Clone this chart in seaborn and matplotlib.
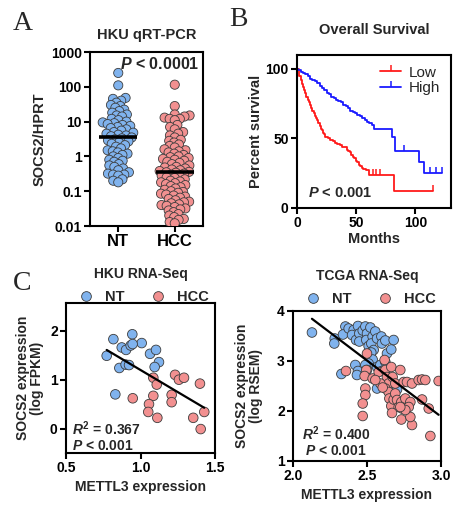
import matplotlib
matplotlib.use("Agg")
import matplotlib.pyplot as plt
from matplotlib.lines import Line2D
from matplotlib.ticker import NullLocator
import numpy as np
import pandas as pd
import seaborn as sns

# --- A: HKU qRT-PCR, SOCS2/HPRT per sample
nt_values = [250, 110, 48, 45, 40, 35, 30, 28, 25, 22, 20, 18, 16, 15, 14, 12, 11, 10,
             9.5, 9, 8.5, 8, 7.5, 7, 6.5, 6, 5.5, 5, 4.8, 4.5, 4.2, 4, 3.8, 3.5, 3.3,
             3.1, 2.9, 2.7, 2.5, 2.3, 2.1, 1.9, 1.7, 1.5, 1.4, 1.3, 1.2, 1.1, 1.0, 0.9,
             0.8, 0.75, 0.7, 0.6, 0.55, 0.5, 0.45, 0.4, 0.35, 0.32, 0.3, 0.3, 0.28,
             0.22, 0.2, 0.18]
hcc_values = [115, 28, 16, 15, 14, 13, 12, 12, 11, 8, 7, 6, 5, 4.5, 4, 3.5, 3, 2.8,
              2.5, 2.2, 2, 1.8, 1.6, 1.5, 1.4, 1.3, 1.2, 1.1, 1.0, 0.95, 0.9, 0.85,
              0.8, 0.75, 0.7, 0.65, 0.6, 0.55, 0.5, 0.48, 0.45, 0.42, 0.4, 0.38, 0.36,
              0.35, 0.34, 0.32, 0.3, 0.28, 0.27, 0.25, 0.24, 0.22, 0.2, 0.19, 0.18,
              0.17, 0.16, 0.15, 0.14, 0.13, 0.12, 0.11, 0.1, 0.095, 0.09, 0.085, 0.08,
              0.075, 0.07, 0.065, 0.06, 0.055, 0.05, 0.048, 0.045, 0.042, 0.04, 0.038,
              0.035, 0.032, 0.03, 0.028, 0.025, 0.022, 0.02, 0.018, 0.016, 0.015,
              0.013, 0.012]
a_groups = ["NT", "HCC"]
a_ticks = [0.01, 0.1, 1, 10, 100, 1000]
a_ticklabels = ["0.01", "0.1", "1", "10", "100", "1000"]

# --- B: overall survival (Kaplan-Meier steps)
low_months = [0, 2, 3, 4, 5, 6, 7, 8, 9, 10, 11, 12, 13, 14, 15, 16, 17, 18, 19, 20,
              21, 22, 23, 24, 26, 28, 30, 32, 34, 36, 38, 40, 42, 43, 45, 46, 47, 48,
              50, 51, 52, 53, 55, 56, 58, 61, 82, 115]
low_surv = [100, 95, 92, 89, 87, 85, 83, 80, 78, 76, 74, 72, 70, 68, 66, 65, 63, 61,
            59, 57, 56, 54, 53, 51, 50, 49, 48, 47, 46, 45, 44, 44, 42, 41, 40, 38, 37,
            36, 34, 33, 31, 30, 29, 28, 27, 24, 12, 12]
low_censor = [64, 67, 70, 115]
high_months = [0, 1, 3, 5, 7, 9, 11, 13, 15, 17, 19, 21, 23, 25, 27, 29, 31, 33, 35,
               37, 39, 41, 43, 45, 47, 49, 51, 53, 55, 57, 59, 61, 63, 65, 80, 83, 103,
               107, 122]
high_surv = [100, 99, 98, 97, 96, 95, 93, 92, 91, 90, 88, 86, 85, 83, 82, 80, 79, 78,
             77, 76, 74, 73, 72, 70, 69, 68, 67, 66, 65, 63, 62, 61, 60, 57, 51, 41, 33,
             25, 25]
high_censor = [90, 112, 117, 122]

# --- C left: HKU RNA-Seq
hku_nt_x = [0.773, 0.818, 0.874, 0.903, 0.934, 0.945, 1.008, 0.947, 0.858, 0.900,
            0.923, 1.064, 1.104, 1.124, 1.095, 0.831]
hku_nt_y = [1.49, 1.83, 1.66, 1.61, 1.70, 1.93, 1.75, 1.73, 1.24, 1.31, 1.30, 1.53,
            1.61, 1.36, 1.26, 0.70]
hku_hcc_x = [1.086, 1.109, 0.948, 1.086, 1.057, 1.052, 1.113, 1.209, 1.209, 1.232,
             1.258, 1.292, 1.399, 1.354, 1.404, 1.428]
hku_hcc_y = [1.04, 0.90, 0.62, 0.67, 0.50, 0.34, 0.22, 0.69, 0.54, 1.10, 1.00, 1.04,
             0.92, 0.22, -0.01, 0.34]

# --- C right: TCGA RNA-Seq
tcga_nt_x = [2.128, 2.282, 2.279, 2.354, 2.338, 2.376, 2.410, 2.399, 2.426, 2.439,
             2.448, 2.448, 2.471, 2.489, 2.500, 2.495, 2.511, 2.523, 2.538, 2.529,
             2.545, 2.556, 2.568, 2.597, 2.601, 2.624, 2.529, 2.538, 2.511, 2.489,
             2.421, 2.439, 2.432, 2.500, 2.568, 2.590, 2.601, 2.624, 2.635, 2.664,
             2.680, 2.327, 2.568, 2.703]
tcga_nt_y = [3.57, 3.45, 3.35, 3.69, 3.53, 3.65, 3.62, 3.52, 3.42, 3.70, 3.55, 3.39,
             3.61, 3.69, 3.55, 3.42, 3.30, 3.67, 3.49, 3.35, 3.22, 3.59, 3.45, 3.49,
             3.35, 3.41, 3.17, 3.03, 2.95, 2.92, 2.92, 2.80, 2.72, 2.82, 2.88, 2.92,
             2.80, 2.98, 3.15, 3.23, 3.42, 2.74, 2.45, 2.43]
tcga_hcc_x = [2.358, 2.500, 2.495, 2.484, 2.489, 2.489, 2.471, 2.471, 2.538, 2.579,
              2.619, 2.624, 2.635, 2.646, 2.664, 2.673, 2.691, 2.624, 2.646, 2.651,
              2.664, 2.680, 2.691, 2.703, 2.714, 2.725, 2.732, 2.736, 2.759, 2.748,
              2.770, 2.804, 2.793, 2.782, 2.732, 2.804, 2.793, 2.849, 2.872, 2.894,
              2.872, 2.917, 2.928, 2.984, 2.590, 2.606, 2.556, 2.759, 2.725, 2.669]
tcga_hcc_y = [2.80, 3.15, 2.82, 2.70, 2.45, 2.32, 2.15, 1.90, 2.65, 2.78, 3.02, 2.82,
              2.68, 2.55, 2.88, 2.68, 2.55, 2.45, 2.38, 2.25, 2.10, 2.23, 2.35, 2.22,
              2.08, 2.82, 2.18, 2.05, 2.25, 2.58, 2.58, 2.55, 2.18, 2.08, 1.83, 1.72,
              1.88, 2.62, 2.63, 2.62, 2.23, 2.05, 1.50, 2.60, 2.55, 2.47, 2.62, 2.02,
              2.08, 1.96]

BLUE_FILL = "#80B3EE"
RED_FILL = "#F29090"
EDGE = "#3c3c3c"
palette = {"NT": BLUE_FILL, "HCC": RED_FILL}

sns.set_style("ticks")
plt.rcParams["font.family"] = ["Liberation Sans", "DejaVu Sans"]
plt.rcParams["font.weight"] = "bold"
plt.rcParams["axes.labelweight"] = "bold"
plt.rcParams["axes.titleweight"] = "bold"
plt.rcParams["mathtext.fontset"] = "custom"
plt.rcParams["mathtext.rm"] = "Liberation Sans:bold"
plt.rcParams["mathtext.it"] = "Liberation Sans:italic:bold"
plt.rcParams["mathtext.bf"] = "Liberation Sans:bold"
plt.rcParams["axes.linewidth"] = 1.5
plt.rcParams["xtick.major.width"] = 1.5
plt.rcParams["ytick.major.width"] = 1.5
plt.rcParams["xtick.major.size"] = 4
plt.rcParams["ytick.major.size"] = 4
plt.rcParams["axes.edgecolor"] = "black"

fig = plt.figure(figsize=(4.6, 5.05), dpi=100)
W, H = 460, 505


def add_axes(left, top, right, bottom):
    return fig.add_axes([left / W, 1 - bottom / H, (right - left) / W, (bottom - top) / H])


def style_ticks(ax, size):
    ax.tick_params(axis="both", labelsize=size, pad=2, colors="black")
    for lab in ax.get_xticklabels() + ax.get_yticklabels():
        lab.set_fontweight("bold")


# ---------------- Panel A
ax_a = add_axes(90, 52, 203, 226)
df_a = pd.DataFrame({
    "group": ["NT"] * len(nt_values) + ["HCC"] * len(hcc_values),
    "value": nt_values + hcc_values,
})
# swarm laid out with small markers, then drawn with bigger ones so they overlap
sns.swarmplot(data=df_a, x="group", y="value", hue="group", order=a_groups,
              palette=palette, size=3.0, edgecolor=EDGE, linewidth=0.6,
              log_scale=True, legend=False, warn_thresh=1, ax=ax_a)
for i, vals in enumerate([nt_values, hcc_values]):
    ax_a.hlines(np.median(vals), i - 0.34, i + 0.34, color="black", lw=2.6, zorder=5)
ax_a.set_ylim(0.01, 1000)
ax_a.set_xlim(-0.5, 1.5)
ax_a.set_yticks(a_ticks, a_ticklabels)
ax_a.yaxis.set_minor_locator(NullLocator())
ax_a.set_xlabel("")
ax_a.set_ylabel("SOCS2/HPRT", fontsize=10.5, labelpad=3)
style_ticks(ax_a, 10)
ax_a.tick_params(axis="x", labelsize=12)
ax_a.set_title("HKU qRT-PCR", fontsize=10.5, pad=9)
ax_a.text(0.97, 0.93, "$P$ < 0.0001", transform=ax_a.transAxes, ha="right",
          va="center", fontsize=11.5)

# ---------------- Panel B
ax_b = add_axes(297, 55, 451, 208)
df_b = pd.concat([
    pd.DataFrame({"months": low_months, "survival": low_surv, "group": "Low"}),
    pd.DataFrame({"months": high_months, "survival": high_surv, "group": "High"}),
])
km_colors = {"Low": "#FF1A1A", "High": "#1A1AFF"}
sns.lineplot(data=df_b, x="months", y="survival", hue="group", palette=km_colors,
             drawstyle="steps-post", estimator=None, linewidth=1.3, legend=False,
             ax=ax_b)
for months, surv, cens, grp in [(low_months, low_surv, low_censor, "Low"),
                                (high_months, high_surv, high_censor, "High")]:
    idx = np.searchsorted(months, cens, side="right") - 1
    ax_b.plot(cens, np.array(surv)[idx], ls="none", marker=2, ms=4, mew=1.1,
              color=km_colors[grp])
ax_b.set_xlim(0, 130)
ax_b.set_ylim(0, 110)
ax_b.set_xticks([0, 50, 100])
ax_b.set_yticks([0, 50, 100])
ax_b.set_xlabel("Months", fontsize=10.5, labelpad=1)
ax_b.set_ylabel("Percent survival", fontsize=10.5, labelpad=2)
style_ticks(ax_b, 10)
ax_b.set_title("Overall Survival", fontsize=10.5, pad=15)
handles = [Line2D([0], [0], color=km_colors[g], lw=1.3, marker=2, ms=4, mew=1.1)
           for g in ["Low", "High"]]
leg = ax_b.legend(handles, ["Low", "High"], loc="upper right", frameon=False,
                  fontsize=11, handlelength=1.4, handletextpad=0.5, numpoints=1,
                  labelspacing=0.1, borderaxespad=0.3)
for t in leg.get_texts():
    t.set_fontweight("normal")
ax_b.text(0.07, 0.1, "$P$ < 0.001", transform=ax_b.transAxes, ha="left",
          va="center", fontsize=10.5)


# ---------------- Panel C
def corr_panel(ax, nt_x, nt_y, hcc_x, hcc_y, title, ylabel, r2_text, leg_y,
               stat_pos, ylabelpad, title_pad):
    df = pd.DataFrame({
        "x": nt_x + hcc_x,
        "y": nt_y + hcc_y,
        "group": ["NT"] * len(nt_x) + ["HCC"] * len(hcc_x),
    })
    sns.scatterplot(data=df, x="x", y="y", hue="group", palette=palette, s=48,
                    edgecolor=EDGE, linewidth=0.6, legend=False, ax=ax, zorder=2)
    sns.regplot(data=df, x="x", y="y", scatter=False, ci=None, truncate=True,
                color="black", line_kws={"lw": 1.6, "zorder": 3}, ax=ax)
    ax.set_xlabel("METTL3 expression", fontsize=10, labelpad=3)
    ax.set_ylabel(ylabel, fontsize=10, labelpad=ylabelpad, linespacing=1.0)
    style_ticks(ax, 10)
    ax.set_title(title, fontsize=10, pad=title_pad)
    hs = [Line2D([0], [0], ls="none", marker="o", ms=7, mfc=palette[g], mec=EDGE,
                 mew=0.6) for g in ["NT", "HCC"]]
    ax.legend(hs, ["NT", "HCC"], loc="center", bbox_to_anchor=(0.5, leg_y), ncol=2,
              frameon=False, fontsize=10.5, handletextpad=0.3, columnspacing=1.3,
              borderaxespad=0, borderpad=0)
    (x1, y1), (x2, y2) = stat_pos
    ax.text(x1, y1, r2_text, transform=ax.transAxes, ha="left", va="center",
            fontsize=10)
    ax.text(x2, y2, "$P$ < 0.001", transform=ax.transAxes, ha="left", va="center",
            fontsize=10)


ax_c1 = add_axes(66, 303, 215, 453)
corr_panel(ax_c1, hku_nt_x, hku_nt_y, hku_hcc_x, hku_hcc_y, "HKU RNA-Seq",
           "SOCS2 expression\n(log FPKM)", "$R^2$ = 0.367", 1.04,
           [(0.04, 0.16), (0.04, 0.05)], 4, 18)
ax_c1.set_xlim(0.5, 1.5)
ax_c1.set_ylim(-0.5, 2.57)
ax_c1.set_xticks([0.5, 1.0, 1.5], ["0.5", "1.0", "1.5"])
ax_c1.set_yticks([0, 1, 2], ["0", "1", "2"])
style_ticks(ax_c1, 10)

ax_c2 = add_axes(293, 311, 441, 461)
corr_panel(ax_c2, tcga_nt_x, tcga_nt_y, tcga_hcc_x, tcga_hcc_y, "TCGA RNA-Seq",
           "SOCS2 expression\n(log RSEM)", "$R^2$ = 0.400", 1.08,
           [(0.06, 0.185), (0.08, 0.065)], 10, 22)
ax_c2.set_xlim(2.0, 3.0)
ax_c2.set_ylim(1, 4)
ax_c2.set_xticks([2.0, 2.5, 3.0], ["2.0", "2.5", "3.0"])
ax_c2.set_yticks([1, 2, 3, 4], ["1", "2", "3", "4"])
style_ticks(ax_c2, 10)

# panel letters
for letter, x, y in [("A", 23, 23), ("B", 238, 19), ("C", 22, 283)]:
    fig.text(x / W, 1 - y / H, letter, family=["Liberation Serif"], fontsize=20,
             fontweight="normal", ha="center", va="center")

# fix the swarm layout, then enlarge the dots
fig.canvas.draw()
for coll in ax_a.collections:
    if "draw" in coll.__dict__:
        del coll.draw
        coll.set_sizes([6.6 ** 2])

fig.savefig("out.png", dpi=100)
